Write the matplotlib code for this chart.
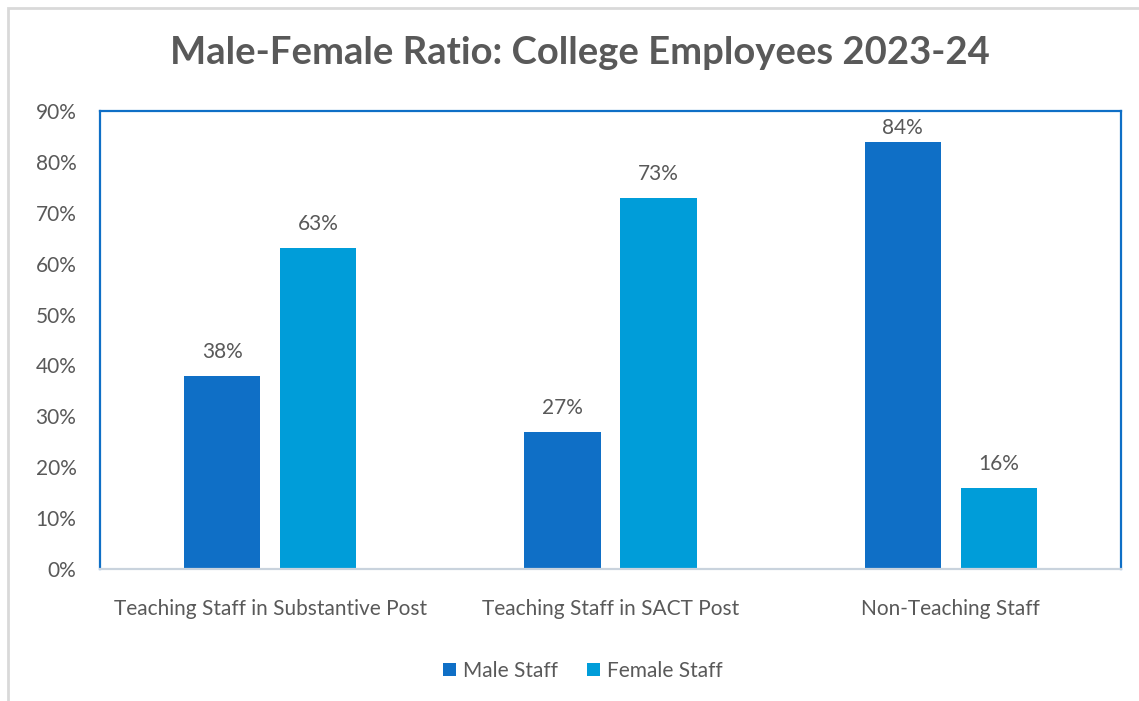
import matplotlib
matplotlib.use("Agg")
import matplotlib.pyplot as plt
from matplotlib.patches import Rectangle
import numpy as np

plt.rcParams['font.family'] = ['Lato', 'DejaVu Sans']

categories = ["Teaching Staff in Substantive Post", "Teaching Staff in SACT Post", "Non-Teaching Staff"]
series_names = ["Male Staff", "Female Staff"]
male_pct = [38, 27, 84]
female_pct = [63, 73, 16]
y_ticks = [0, 10, 20, 30, 40, 50, 60, 70, 80, 90]

male_color = "#0F6FC6"
female_color = "#009DD9"
text_color = "#595959"

W, H = 1139, 701
fig = plt.figure(figsize=(W / 100, H / 100), dpi=100)

# light outer frame of the chart area
fig.patches.append(Rectangle((8 / W, -0.05), 1.1, 1 - 8.5 / H + 0.05, transform=fig.transFigure,
                             fill=False, edgecolor="#D9D9D9", linewidth=2.0))

ax_h_px = 458
ax = fig.add_axes([100 / W, 1 - 569 / H, 1021 / W, ax_h_px / H])

x = np.arange(len(categories))
width = 0.224
offset = 0.141
b1 = ax.bar(x - offset, male_pct, width, color=male_color, label=series_names[0])
b2 = ax.bar(x + offset, female_pct, width, color=female_color, label=series_names[1])

y_max = y_ticks[-1]
px = y_max / ax_h_px  # data units per pixel
for bars, vals in ((b1, male_pct), (b2, female_pct)):
    for rect, v in zip(bars, vals):
        # label sits above the bar, kept inside the plot area near the top
        ly = min(v + 24 * px, y_max - 17 * px)
        ax.text(rect.get_x() + rect.get_width() / 2, ly, f"{v}%",
                ha="center", va="center", fontsize=15, color=text_color)

ax.set_xlim(-0.5, len(categories) - 0.5)
ax.set_ylim(0, y_max)
ax.set_yticks(y_ticks)
ax.set_yticklabels([f"{t}%" for t in y_ticks])
ax.set_xticks(x)
ax.set_xticklabels(categories)
ax.tick_params(axis="y", length=0, pad=17, labelsize=15, labelcolor=text_color)
ax.tick_params(axis="x", length=0, pad=21.5, labelsize=15, labelcolor=text_color)

for side in ("top", "left", "right"):
    ax.spines[side].set_color(male_color)
    ax.spines[side].set_linewidth(1.6)
ax.spines["bottom"].set_color("#C9D3DD")
ax.spines["bottom"].set_linewidth(1.6)

fig.text(579.5 / W, 1 - 53.5 / H, "Male-Female Ratio: College Employees 2023-24",
         ha="center", va="center", fontsize=27.5, fontweight="bold", color=text_color)

fig.legend(handles=[b1, b2], labels=series_names, loc="center",
           bbox_to_anchor=(583 / W, 1 - 671 / H), ncol=2, frameon=False,
           fontsize=15, labelcolor=text_color, handlelength=0.6, handleheight=0.6,
           handletextpad=0.35, columnspacing=1.4)

fig.savefig("out.png", dpi=100)
